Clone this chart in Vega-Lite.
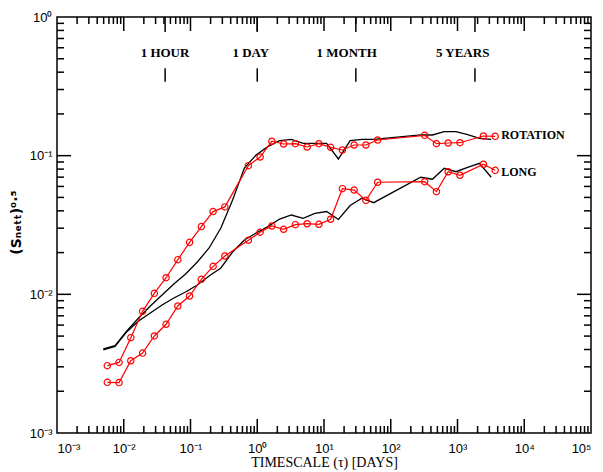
{
  "$schema": "https://vega.github.io/schema/vega-lite/v6.json",
  "width": 534,
  "height": 416,
  "autosize": "none",
  "padding": {"left": 57, "top": 17, "right": 12, "bottom": 39},
  "background": "white",
  "config": {
    "view": {"stroke": "black", "strokeWidth": 1.5},
    "axis": {"grid": false, "labelColor": "black", "titleColor": "black"}
  },
  "datasets": {
    "series": [
      {"src": "obs", "grp": "ROTATION", "tau": 0.00567, "s": 0.00306},
      {"src": "obs", "grp": "ROTATION", "tau": 0.008505, "s": 0.00323},
      {"src": "obs", "grp": "ROTATION", "tau": 0.01276, "s": 0.00487},
      {"src": "obs", "grp": "ROTATION", "tau": 0.01914, "s": 0.00754},
      {"src": "obs", "grp": "ROTATION", "tau": 0.0287, "s": 0.01017},
      {"src": "obs", "grp": "ROTATION", "tau": 0.04306, "s": 0.01318},
      {"src": "obs", "grp": "ROTATION", "tau": 0.06458, "s": 0.01778},
      {"src": "obs", "grp": "ROTATION", "tau": 0.09688, "s": 0.0237},
      {"src": "obs", "grp": "ROTATION", "tau": 0.1453, "s": 0.0308},
      {"src": "obs", "grp": "ROTATION", "tau": 0.218, "s": 0.0395},
      {"src": "obs", "grp": "ROTATION", "tau": 0.327, "s": 0.0427},
      {"src": "obs", "grp": "ROTATION", "tau": 0.7357, "s": 0.0847},
      {"src": "obs", "grp": "ROTATION", "tau": 1.1035, "s": 0.0978},
      {"src": "obs", "grp": "ROTATION", "tau": 1.655, "s": 0.127},
      {"src": "obs", "grp": "ROTATION", "tau": 2.483, "s": 0.1214},
      {"src": "obs", "grp": "ROTATION", "tau": 3.724, "s": 0.122},
      {"src": "obs", "grp": "ROTATION", "tau": 5.587, "s": 0.1155},
      {"src": "obs", "grp": "ROTATION", "tau": 8.38, "s": 0.122},
      {"src": "obs", "grp": "ROTATION", "tau": 12.57, "s": 0.1149},
      {"src": "obs", "grp": "ROTATION", "tau": 18.86, "s": 0.1099},
      {"src": "obs", "grp": "ROTATION", "tau": 28.28, "s": 0.1194},
      {"src": "obs", "grp": "ROTATION", "tau": 42.43, "s": 0.1194},
      {"src": "obs", "grp": "ROTATION", "tau": 63.64, "s": 0.1297},
      {"src": "obs", "grp": "ROTATION", "tau": 322.2, "s": 0.1402},
      {"src": "obs", "grp": "ROTATION", "tau": 483.3, "s": 0.122},
      {"src": "obs", "grp": "ROTATION", "tau": 724.9, "s": 0.1234},
      {"src": "obs", "grp": "ROTATION", "tau": 1087, "s": 0.124},
      {"src": "obs", "grp": "ROTATION", "tau": 2447, "s": 0.1386},
      {"src": "obs", "grp": "ROTATION", "tau": 3670, "s": 0.1379},
      {"src": "obs", "grp": "LONG", "tau": 0.00567, "s": 0.00232},
      {"src": "obs", "grp": "LONG", "tau": 0.008505, "s": 0.00231},
      {"src": "obs", "grp": "LONG", "tau": 0.01276, "s": 0.00332},
      {"src": "obs", "grp": "LONG", "tau": 0.01914, "s": 0.00377},
      {"src": "obs", "grp": "LONG", "tau": 0.0287, "s": 0.00501},
      {"src": "obs", "grp": "LONG", "tau": 0.04306, "s": 0.00608},
      {"src": "obs", "grp": "LONG", "tau": 0.06458, "s": 0.00824},
      {"src": "obs", "grp": "LONG", "tau": 0.09688, "s": 0.00973},
      {"src": "obs", "grp": "LONG", "tau": 0.1453, "s": 0.01283},
      {"src": "obs", "grp": "LONG", "tau": 0.218, "s": 0.01592},
      {"src": "obs", "grp": "LONG", "tau": 0.327, "s": 0.01889},
      {"src": "obs", "grp": "LONG", "tau": 0.7357, "s": 0.02453},
      {"src": "obs", "grp": "LONG", "tau": 1.1035, "s": 0.02806},
      {"src": "obs", "grp": "LONG", "tau": 1.655, "s": 0.0311},
      {"src": "obs", "grp": "LONG", "tau": 2.483, "s": 0.02944},
      {"src": "obs", "grp": "LONG", "tau": 3.724, "s": 0.0318},
      {"src": "obs", "grp": "LONG", "tau": 5.587, "s": 0.0323},
      {"src": "obs", "grp": "LONG", "tau": 8.38, "s": 0.032},
      {"src": "obs", "grp": "LONG", "tau": 12.57, "s": 0.0348},
      {"src": "obs", "grp": "LONG", "tau": 18.86, "s": 0.0578},
      {"src": "obs", "grp": "LONG", "tau": 28.28, "s": 0.0565},
      {"src": "obs", "grp": "LONG", "tau": 42.43, "s": 0.0476},
      {"src": "obs", "grp": "LONG", "tau": 63.64, "s": 0.0643},
      {"src": "obs", "grp": "LONG", "tau": 322.2, "s": 0.0649},
      {"src": "obs", "grp": "LONG", "tau": 483.3, "s": 0.055},
      {"src": "obs", "grp": "LONG", "tau": 724.9, "s": 0.0766},
      {"src": "obs", "grp": "LONG", "tau": 1087, "s": 0.0722},
      {"src": "obs", "grp": "LONG", "tau": 2447, "s": 0.0867},
      {"src": "obs", "grp": "LONG", "tau": 3670, "s": 0.0784},
      {"src": "model", "grp": "ROTATION", "tau": 0.00494, "s": 0.004036},
      {"src": "model", "grp": "ROTATION", "tau": 0.00741, "s": 0.004262},
      {"src": "model", "grp": "ROTATION", "tau": 0.01112, "s": 0.005444},
      {"src": "model", "grp": "ROTATION", "tau": 0.01667, "s": 0.006751},
      {"src": "model", "grp": "ROTATION", "tau": 0.02501, "s": 0.008236},
      {"src": "model", "grp": "ROTATION", "tau": 0.03752, "s": 0.009886},
      {"src": "model", "grp": "ROTATION", "tau": 0.05627, "s": 0.01188},
      {"src": "model", "grp": "ROTATION", "tau": 0.08441, "s": 0.01402},
      {"src": "model", "grp": "ROTATION", "tau": 0.1266, "s": 0.01711},
      {"src": "model", "grp": "ROTATION", "tau": 0.1899, "s": 0.02159},
      {"src": "model", "grp": "ROTATION", "tau": 0.2849, "s": 0.0301},
      {"src": "model", "grp": "ROTATION", "tau": 0.4273, "s": 0.0479},
      {"src": "model", "grp": "ROTATION", "tau": 0.641, "s": 0.0815},
      {"src": "model", "grp": "ROTATION", "tau": 0.9615, "s": 0.1012},
      {"src": "model", "grp": "ROTATION", "tau": 1.442, "s": 0.1161},
      {"src": "model", "grp": "ROTATION", "tau": 2.163, "s": 0.1282},
      {"src": "model", "grp": "ROTATION", "tau": 3.245, "s": 0.1312},
      {"src": "model", "grp": "ROTATION", "tau": 4.868, "s": 0.1228},
      {"src": "model", "grp": "ROTATION", "tau": 7.302, "s": 0.1228},
      {"src": "model", "grp": "ROTATION", "tau": 10.95, "s": 0.1228},
      {"src": "model", "grp": "ROTATION", "tau": 16.43, "s": 0.0946},
      {"src": "model", "grp": "ROTATION", "tau": 24.64, "s": 0.1282},
      {"src": "model", "grp": "ROTATION", "tau": 36.97, "s": 0.1312},
      {"src": "model", "grp": "ROTATION", "tau": 55.45, "s": 0.1312},
      {"src": "model", "grp": "ROTATION", "tau": 280.7, "s": 0.141},
      {"src": "model", "grp": "ROTATION", "tau": 421.1, "s": 0.141},
      {"src": "model", "grp": "ROTATION", "tau": 631.6, "s": 0.1489},
      {"src": "model", "grp": "ROTATION", "tau": 947.4, "s": 0.1489},
      {"src": "model", "grp": "ROTATION", "tau": 1421, "s": 0.1421},
      {"src": "model", "grp": "ROTATION", "tau": 2132, "s": 0.1334},
      {"src": "model", "grp": "ROTATION", "tau": 3198, "s": 0.1312},
      {"src": "model", "grp": "LONG", "tau": 0.00494, "s": 0.00398},
      {"src": "model", "grp": "LONG", "tau": 0.00741, "s": 0.00421},
      {"src": "model", "grp": "LONG", "tau": 0.01112, "s": 0.00538},
      {"src": "model", "grp": "LONG", "tau": 0.01667, "s": 0.006426},
      {"src": "model", "grp": "LONG", "tau": 0.02501, "s": 0.007333},
      {"src": "model", "grp": "LONG", "tau": 0.03752, "s": 0.008375},
      {"src": "model", "grp": "LONG", "tau": 0.05627, "s": 0.009408},
      {"src": "model", "grp": "LONG", "tau": 0.08441, "s": 0.0104},
      {"src": "model", "grp": "LONG", "tau": 0.1266, "s": 0.01168},
      {"src": "model", "grp": "LONG", "tau": 0.1899, "s": 0.01356},
      {"src": "model", "grp": "LONG", "tau": 0.2849, "s": 0.01549},
      {"src": "model", "grp": "LONG", "tau": 0.4273, "s": 0.0202},
      {"src": "model", "grp": "LONG", "tau": 0.641, "s": 0.02465},
      {"src": "model", "grp": "LONG", "tau": 0.9615, "s": 0.02769},
      {"src": "model", "grp": "LONG", "tau": 1.442, "s": 0.03077},
      {"src": "model", "grp": "LONG", "tau": 2.163, "s": 0.03491},
      {"src": "model", "grp": "LONG", "tau": 3.245, "s": 0.03733},
      {"src": "model", "grp": "LONG", "tau": 4.868, "s": 0.03533},
      {"src": "model", "grp": "LONG", "tau": 7.302, "s": 0.03838},
      {"src": "model", "grp": "LONG", "tau": 10.95, "s": 0.03956},
      {"src": "model", "grp": "LONG", "tau": 16.43, "s": 0.03465},
      {"src": "model", "grp": "LONG", "tau": 24.64, "s": 0.04372},
      {"src": "model", "grp": "LONG", "tau": 36.97, "s": 0.0493},
      {"src": "model", "grp": "LONG", "tau": 55.45, "s": 0.04581},
      {"src": "model", "grp": "LONG", "tau": 280.7, "s": 0.06986},
      {"src": "model", "grp": "LONG", "tau": 421.1, "s": 0.0676},
      {"src": "model", "grp": "LONG", "tau": 631.6, "s": 0.0811},
      {"src": "model", "grp": "LONG", "tau": 947.4, "s": 0.07658},
      {"src": "model", "grp": "LONG", "tau": 1421, "s": 0.08219},
      {"src": "model", "grp": "LONG", "tau": 2132, "s": 0.08811},
      {"src": "model", "grp": "LONG", "tau": 3198, "s": 0.06986}
    ],
    "endlabels": [
      {"lab": "ROTATION", "tau": 3670, "s": 0.141},
      {"lab": "LONG", "tau": 3670, "s": 0.0766}
    ],
    "marks": [
      {"lab": "1 HOUR", "tau": 0.041667, "y1": 1.0, "y2": 0.7794},
      {"lab": "1 HOUR", "tau": 0.041667, "y1": 0.4267, "y2": 0.3416},
      {"lab": "1 DAY", "tau": 1, "y1": 1.0, "y2": 0.7794},
      {"lab": "1 DAY", "tau": 1, "y1": 0.4267, "y2": 0.3416},
      {"lab": "1 MONTH", "tau": 30, "y1": 1.0, "y2": 0.7794},
      {"lab": "1 MONTH", "tau": 30, "y1": 0.4267, "y2": 0.3416},
      {"lab": "5 YEARS", "tau": 1826, "y1": 1.0, "y2": 0.7794},
      {"lab": "5 YEARS", "tau": 1826, "y1": 0.4267, "y2": 0.3416}
    ],
    "marklabels": [
      {"lab": "1 HOUR", "lx": 0.0415, "s": 0.547},
      {"lab": "1 DAY", "lx": 0.8005, "s": 0.547},
      {"lab": "1 MONTH", "lx": 21.9, "s": 0.547},
      {"lab": "5 YEARS", "lx": 1197, "s": 0.547}
    ],
    "xt": [
      {"v": 0.01, "a": 0.001, "b": 0.001262}, {"v": 0.1, "a": 0.001, "b": 0.001262}, {"v": 1, "a": 0.001, "b": 0.001262}, {"v": 10, "a": 0.001, "b": 0.001262}, {"v": 100, "a": 0.001, "b": 0.001262}, {"v": 1000, "a": 0.001, "b": 0.001262}, {"v": 10000, "a": 0.001, "b": 0.001262},
      {"v": 0.01, "a": 1, "b": 0.7924}, {"v": 0.1, "a": 1, "b": 0.7924}, {"v": 1, "a": 1, "b": 0.7924}, {"v": 10, "a": 1, "b": 0.7924}, {"v": 100, "a": 1, "b": 0.7924}, {"v": 1000, "a": 1, "b": 0.7924}, {"v": 10000, "a": 1, "b": 0.7924},
      {"v": 0.002, "a": 0.001, "b": 0.0011233}, {"v": 0.003, "a": 0.001, "b": 0.0011233}, {"v": 0.004, "a": 0.001, "b": 0.0011233}, {"v": 0.005, "a": 0.001, "b": 0.0011233}, {"v": 0.006, "a": 0.001, "b": 0.0011233}, {"v": 0.007, "a": 0.001, "b": 0.0011233}, {"v": 0.008, "a": 0.001, "b": 0.0011233}, {"v": 0.009, "a": 0.001, "b": 0.0011233},
      {"v": 0.02, "a": 0.001, "b": 0.0011233}, {"v": 0.03, "a": 0.001, "b": 0.0011233}, {"v": 0.04, "a": 0.001, "b": 0.0011233}, {"v": 0.05, "a": 0.001, "b": 0.0011233}, {"v": 0.06, "a": 0.001, "b": 0.0011233}, {"v": 0.07, "a": 0.001, "b": 0.0011233}, {"v": 0.08, "a": 0.001, "b": 0.0011233}, {"v": 0.09, "a": 0.001, "b": 0.0011233},
      {"v": 0.2, "a": 0.001, "b": 0.0011233}, {"v": 0.3, "a": 0.001, "b": 0.0011233}, {"v": 0.4, "a": 0.001, "b": 0.0011233}, {"v": 0.5, "a": 0.001, "b": 0.0011233}, {"v": 0.6, "a": 0.001, "b": 0.0011233}, {"v": 0.7, "a": 0.001, "b": 0.0011233}, {"v": 0.8, "a": 0.001, "b": 0.0011233}, {"v": 0.9, "a": 0.001, "b": 0.0011233},
      {"v": 2, "a": 0.001, "b": 0.0011233}, {"v": 3, "a": 0.001, "b": 0.0011233}, {"v": 4, "a": 0.001, "b": 0.0011233}, {"v": 5, "a": 0.001, "b": 0.0011233}, {"v": 6, "a": 0.001, "b": 0.0011233}, {"v": 7, "a": 0.001, "b": 0.0011233}, {"v": 8, "a": 0.001, "b": 0.0011233}, {"v": 9, "a": 0.001, "b": 0.0011233},
      {"v": 20, "a": 0.001, "b": 0.0011233}, {"v": 30, "a": 0.001, "b": 0.0011233}, {"v": 40, "a": 0.001, "b": 0.0011233}, {"v": 50, "a": 0.001, "b": 0.0011233}, {"v": 60, "a": 0.001, "b": 0.0011233}, {"v": 70, "a": 0.001, "b": 0.0011233}, {"v": 80, "a": 0.001, "b": 0.0011233}, {"v": 90, "a": 0.001, "b": 0.0011233},
      {"v": 200, "a": 0.001, "b": 0.0011233}, {"v": 300, "a": 0.001, "b": 0.0011233}, {"v": 400, "a": 0.001, "b": 0.0011233}, {"v": 500, "a": 0.001, "b": 0.0011233}, {"v": 600, "a": 0.001, "b": 0.0011233}, {"v": 700, "a": 0.001, "b": 0.0011233}, {"v": 800, "a": 0.001, "b": 0.0011233}, {"v": 900, "a": 0.001, "b": 0.0011233},
      {"v": 2000, "a": 0.001, "b": 0.0011233}, {"v": 3000, "a": 0.001, "b": 0.0011233}, {"v": 4000, "a": 0.001, "b": 0.0011233}, {"v": 5000, "a": 0.001, "b": 0.0011233}, {"v": 6000, "a": 0.001, "b": 0.0011233}, {"v": 7000, "a": 0.001, "b": 0.0011233}, {"v": 8000, "a": 0.001, "b": 0.0011233}, {"v": 9000, "a": 0.001, "b": 0.0011233},
      {"v": 20000, "a": 0.001, "b": 0.0011233}, {"v": 30000, "a": 0.001, "b": 0.0011233}, {"v": 40000, "a": 0.001, "b": 0.0011233}, {"v": 50000, "a": 0.001, "b": 0.0011233}, {"v": 60000, "a": 0.001, "b": 0.0011233}, {"v": 70000, "a": 0.001, "b": 0.0011233}, {"v": 80000, "a": 0.001, "b": 0.0011233}, {"v": 90000, "a": 0.001, "b": 0.0011233},
      {"v": 0.002, "a": 1, "b": 0.8902}, {"v": 0.003, "a": 1, "b": 0.8902}, {"v": 0.004, "a": 1, "b": 0.8902}, {"v": 0.005, "a": 1, "b": 0.8902}, {"v": 0.006, "a": 1, "b": 0.8902}, {"v": 0.007, "a": 1, "b": 0.8902}, {"v": 0.008, "a": 1, "b": 0.8902}, {"v": 0.009, "a": 1, "b": 0.8902},
      {"v": 0.02, "a": 1, "b": 0.8902}, {"v": 0.03, "a": 1, "b": 0.8902}, {"v": 0.04, "a": 1, "b": 0.8902}, {"v": 0.05, "a": 1, "b": 0.8902}, {"v": 0.06, "a": 1, "b": 0.8902}, {"v": 0.07, "a": 1, "b": 0.8902}, {"v": 0.08, "a": 1, "b": 0.8902}, {"v": 0.09, "a": 1, "b": 0.8902},
      {"v": 0.2, "a": 1, "b": 0.8902}, {"v": 0.3, "a": 1, "b": 0.8902}, {"v": 0.4, "a": 1, "b": 0.8902}, {"v": 0.5, "a": 1, "b": 0.8902}, {"v": 0.6, "a": 1, "b": 0.8902}, {"v": 0.7, "a": 1, "b": 0.8902}, {"v": 0.8, "a": 1, "b": 0.8902}, {"v": 0.9, "a": 1, "b": 0.8902},
      {"v": 2, "a": 1, "b": 0.8902}, {"v": 3, "a": 1, "b": 0.8902}, {"v": 4, "a": 1, "b": 0.8902}, {"v": 5, "a": 1, "b": 0.8902}, {"v": 6, "a": 1, "b": 0.8902}, {"v": 7, "a": 1, "b": 0.8902}, {"v": 8, "a": 1, "b": 0.8902}, {"v": 9, "a": 1, "b": 0.8902},
      {"v": 20, "a": 1, "b": 0.8902}, {"v": 30, "a": 1, "b": 0.8902}, {"v": 40, "a": 1, "b": 0.8902}, {"v": 50, "a": 1, "b": 0.8902}, {"v": 60, "a": 1, "b": 0.8902}, {"v": 70, "a": 1, "b": 0.8902}, {"v": 80, "a": 1, "b": 0.8902}, {"v": 90, "a": 1, "b": 0.8902},
      {"v": 200, "a": 1, "b": 0.8902}, {"v": 300, "a": 1, "b": 0.8902}, {"v": 400, "a": 1, "b": 0.8902}, {"v": 500, "a": 1, "b": 0.8902}, {"v": 600, "a": 1, "b": 0.8902}, {"v": 700, "a": 1, "b": 0.8902}, {"v": 800, "a": 1, "b": 0.8902}, {"v": 900, "a": 1, "b": 0.8902},
      {"v": 2000, "a": 1, "b": 0.8902}, {"v": 3000, "a": 1, "b": 0.8902}, {"v": 4000, "a": 1, "b": 0.8902}, {"v": 5000, "a": 1, "b": 0.8902}, {"v": 6000, "a": 1, "b": 0.8902}, {"v": 7000, "a": 1, "b": 0.8902}, {"v": 8000, "a": 1, "b": 0.8902}, {"v": 9000, "a": 1, "b": 0.8902},
      {"v": 20000, "a": 1, "b": 0.8902}, {"v": 30000, "a": 1, "b": 0.8902}, {"v": 40000, "a": 1, "b": 0.8902}, {"v": 50000, "a": 1, "b": 0.8902}, {"v": 60000, "a": 1, "b": 0.8902}, {"v": 70000, "a": 1, "b": 0.8902}, {"v": 80000, "a": 1, "b": 0.8902}, {"v": 90000, "a": 1, "b": 0.8902}
    ],
    "yt": [
      {"v": 0.01, "a": 0.001, "b": 0.0016208}, {"v": 0.1, "a": 0.001, "b": 0.0016208},
      {"v": 0.01, "a": 100000, "b": 61698}, {"v": 0.1, "a": 100000, "b": 61698},
      {"v": 0.002, "a": 0.001, "b": 0.0012731}, {"v": 0.003, "a": 0.001, "b": 0.0012731}, {"v": 0.004, "a": 0.001, "b": 0.0012731}, {"v": 0.005, "a": 0.001, "b": 0.0012731}, {"v": 0.006, "a": 0.001, "b": 0.0012731}, {"v": 0.007, "a": 0.001, "b": 0.0012731}, {"v": 0.008, "a": 0.001, "b": 0.0012731}, {"v": 0.009, "a": 0.001, "b": 0.0012731},
      {"v": 0.02, "a": 0.001, "b": 0.0012731}, {"v": 0.03, "a": 0.001, "b": 0.0012731}, {"v": 0.04, "a": 0.001, "b": 0.0012731}, {"v": 0.05, "a": 0.001, "b": 0.0012731}, {"v": 0.06, "a": 0.001, "b": 0.0012731}, {"v": 0.07, "a": 0.001, "b": 0.0012731}, {"v": 0.08, "a": 0.001, "b": 0.0012731}, {"v": 0.09, "a": 0.001, "b": 0.0012731},
      {"v": 0.2, "a": 0.001, "b": 0.0012731}, {"v": 0.3, "a": 0.001, "b": 0.0012731}, {"v": 0.4, "a": 0.001, "b": 0.0012731}, {"v": 0.5, "a": 0.001, "b": 0.0012731}, {"v": 0.6, "a": 0.001, "b": 0.0012731}, {"v": 0.7, "a": 0.001, "b": 0.0012731}, {"v": 0.8, "a": 0.001, "b": 0.0012731}, {"v": 0.9, "a": 0.001, "b": 0.0012731},
      {"v": 0.002, "a": 100000, "b": 78549}, {"v": 0.003, "a": 100000, "b": 78549}, {"v": 0.004, "a": 100000, "b": 78549}, {"v": 0.005, "a": 100000, "b": 78549}, {"v": 0.006, "a": 100000, "b": 78549}, {"v": 0.007, "a": 100000, "b": 78549}, {"v": 0.008, "a": 100000, "b": 78549}, {"v": 0.009, "a": 100000, "b": 78549},
      {"v": 0.02, "a": 100000, "b": 78549}, {"v": 0.03, "a": 100000, "b": 78549}, {"v": 0.04, "a": 100000, "b": 78549}, {"v": 0.05, "a": 100000, "b": 78549}, {"v": 0.06, "a": 100000, "b": 78549}, {"v": 0.07, "a": 100000, "b": 78549}, {"v": 0.08, "a": 100000, "b": 78549}, {"v": 0.09, "a": 100000, "b": 78549},
      {"v": 0.2, "a": 100000, "b": 78549}, {"v": 0.3, "a": 100000, "b": 78549}, {"v": 0.4, "a": 100000, "b": 78549}, {"v": 0.5, "a": 100000, "b": 78549}, {"v": 0.6, "a": 100000, "b": 78549}, {"v": 0.7, "a": 100000, "b": 78549}, {"v": 0.8, "a": 100000, "b": 78549}, {"v": 0.9, "a": 100000, "b": 78549}
    ]
  },
  "layer": [
    {
      "data": {"name": "series"},
      "transform": [{"filter": "datum.src == 'model'"}],
      "mark": {"type": "line", "color": "black", "strokeWidth": 1.3},
      "encoding": {
        "x": {"field": "tau", "type": "quantitative",
          "scale": {"type": "log", "domain": [0.001, 100000], "nice": false},
          "axis": {"orient": "bottom", "domain": false, "ticks": false, "tickSize": 0, "values": [0.001, 0.01, 0.1, 1, 10, 100, 1000, 10000, 100000],
            "labelPadding": 9, "labelFont": "Liberation Sans", "labelFontSize": 13,
            "labelExpr": "'10' + (datum.value < 0.9 ? '⁻' : '') + ['⁰','¹','²','³','⁴','⁵'][abs(round(log(datum.value)/LN10))]",
            "title": "TIMESCALE (τ) [DAYS]", "titleFont": "Liberation Serif", "titleFontSize": 14, "titleFontWeight": "normal",
            "titleBaseline": "alphabetic", "titleY": 33}},
        "y": {"field": "s", "type": "quantitative",
          "scale": {"type": "log", "domain": [0.001, 1], "nice": false},
          "axis": {"orient": "left", "domain": false, "ticks": false, "tickSize": 0, "values": [0.001, 0.01, 0.1, 1],
            "labelPadding": 5, "labelFont": "Liberation Sans", "labelFontSize": 13,
            "labelExpr": "'10' + (datum.value < 0.9 ? '⁻' : '') + ['⁰','¹','²','³','⁴','⁵'][abs(round(log(datum.value)/LN10))]",
            "title": "(Sₙₑₜₜ)⁰·⁵", "titleFont": "DejaVu Sans", "titleFontSize": 14, "titleFontWeight": "bold",
            "titleBaseline": "alphabetic", "titleX": -37, "titleY": 205}},
        "detail": {"field": "grp"}
      }
    },
    {
      "data": {"name": "series"},
      "transform": [{"filter": "datum.src == 'obs'"}],
      "mark": {"type": "line", "color": "#ff0000", "strokeWidth": 1.2},
      "encoding": {
        "x": {"field": "tau", "type": "quantitative", "scale": {"type": "log", "domain": [0.001, 100000], "nice": false}},
        "y": {"field": "s", "type": "quantitative", "scale": {"type": "log", "domain": [0.001, 1], "nice": false}},
        "detail": {"field": "grp"}
      }
    },
    {
      "data": {"name": "series"},
      "transform": [{"filter": "datum.src == 'obs'"}],
      "mark": {"type": "point", "shape": "circle", "filled": false, "color": "#ff0000", "size": 40, "strokeWidth": 1.2, "opacity": 1},
      "encoding": {
        "x": {"field": "tau", "type": "quantitative", "scale": {"type": "log", "domain": [0.001, 100000], "nice": false}},
        "y": {"field": "s", "type": "quantitative", "scale": {"type": "log", "domain": [0.001, 1], "nice": false}}
      }
    },
    {
      "data": {"name": "endlabels"},
      "mark": {"type": "text", "align": "left", "baseline": "middle", "dx": 6, "font": "Liberation Serif", "fontWeight": "bold", "fontSize": 12, "color": "black"},
      "encoding": {
        "x": {"field": "tau", "type": "quantitative", "scale": {"type": "log", "domain": [0.001, 100000], "nice": false}},
        "y": {"field": "s", "type": "quantitative", "scale": {"type": "log", "domain": [0.001, 1], "nice": false}},
        "text": {"field": "lab"}
      }
    },
    {
      "data": {"name": "marks"},
      "mark": {"type": "rule", "color": "black", "strokeWidth": 1.5},
      "encoding": {
        "x": {"field": "tau", "type": "quantitative", "scale": {"type": "log", "domain": [0.001, 100000], "nice": false}},
        "y": {"field": "y1", "type": "quantitative", "scale": {"type": "log", "domain": [0.001, 1], "nice": false}},
        "y2": {"field": "y2"}
      }
    },
    {
      "data": {"name": "xt"},
      "mark": {"type": "rule", "color": "black", "strokeWidth": 1.5},
      "encoding": {
        "x": {"field": "v", "type": "quantitative", "scale": {"type": "log", "domain": [0.001, 100000], "nice": false}},
        "y": {"field": "a", "type": "quantitative", "scale": {"type": "log", "domain": [0.001, 1], "nice": false}},
        "y2": {"field": "b"}
      }
    },
    {
      "data": {"name": "yt"},
      "mark": {"type": "rule", "color": "black", "strokeWidth": 1.5},
      "encoding": {
        "y": {"field": "v", "type": "quantitative", "scale": {"type": "log", "domain": [0.001, 1], "nice": false}},
        "x": {"field": "a", "type": "quantitative", "scale": {"type": "log", "domain": [0.001, 100000], "nice": false}},
        "x2": {"field": "b"}
      }
    },
    {
      "data": {"name": "marklabels"},
      "mark": {"type": "text", "align": "center", "baseline": "middle", "font": "Liberation Serif", "fontWeight": "bold", "fontSize": 13, "color": "black"},
      "encoding": {
        "x": {"field": "lx", "type": "quantitative", "scale": {"type": "log", "domain": [0.001, 100000], "nice": false}},
        "y": {"field": "s", "type": "quantitative", "scale": {"type": "log", "domain": [0.001, 1], "nice": false}},
        "text": {"field": "lab"}
      }
    }
  ]
}
